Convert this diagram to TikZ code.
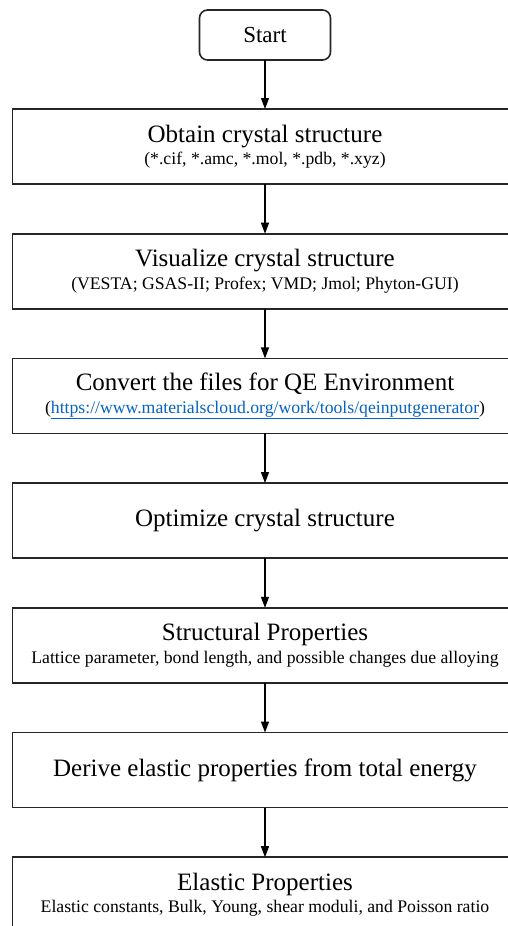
\documentclass[tikz,border=0pt]{standalone}
\usepackage{fontspec}
\setmainfont{Liberation Serif}
\usetikzlibrary{arrows.meta, positioning}
\definecolor{linkblue}{RGB}{5,99,193}
\newcommand{\subline}[1]{{\fontsize{17.7}{19}\selectfont #1}}

\begin{document}
\begin{tikzpicture}[x=1pt, y=-1pt,
  node distance=49.7pt,
  stepbox/.style={draw=black!85, rectangle, line width=1.6pt, outer sep=0pt, minimum height=75pt, minimum width=505pt, align=center, font=\fontsize{25}{22.5}\selectfont},
  startbox/.style={draw=black!85, rectangle, rounded corners=8pt, line width=1.6pt, outer sep=0pt, minimum height=50pt, minimum width=131pt, font=\fontsize{23}{26}\selectfont},
  arrow/.style={-{Triangle[length=11pt, width=8pt]}, line width=1.2pt}
]
\useasboundingbox (0,0) rectangle (508,926);
\clip (0,0) rectangle (508,926);

% Start
\node[startbox] (start) at (265,35) {Start};

% Steps
\node[stepbox, below=49pt of start] (obtain) {Obtain crystal structure\\\subline{(*.cif, *.amc, *.mol, *.pdb, *.xyz)}};
\node[stepbox, below=of obtain] (visualize) {Visualize crystal structure\\\subline{(VESTA; GSAS-II; Profex; VMD; Jmol; Phyton-GUI)}};
\node[stepbox, below=of visualize] (convert) {Convert the files for QE Environment\\\subline{(\textcolor{linkblue}{\underline{https://www.materialscloud.org/work/tools/qeinputgenerator}})}};
\node[stepbox, below=of convert] (optimize) {Optimize crystal structure};
\node[stepbox, below=of optimize] (structural) {Structural Properties\\\subline{Lattice parameter, bond length, and possible changes due alloying}};
\node[stepbox, below=of structural] (derive) {Derive elastic properties from total energy};
\node[stepbox, below=of derive] (elastic) {Elastic Properties\\\subline{Elastic constants, Bulk, Young, shear moduli, and Poisson ratio}};

% Arrows
\draw[arrow] (start) -- (obtain);
\draw[arrow] (obtain) -- (visualize);
\draw[arrow] (visualize) -- (convert);
\draw[arrow] (convert) -- (optimize);
\draw[arrow] (optimize) -- (structural);
\draw[arrow] (structural) -- (derive);
\draw[arrow] (derive) -- (elastic);

\end{tikzpicture}
\end{document}
